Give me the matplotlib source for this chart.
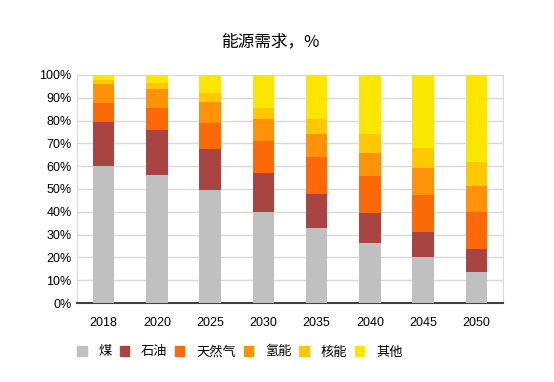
import numpy as np
import matplotlib.pyplot as plt
from matplotlib.patches import Patch

plt.rcParams['font.family'] = ['Noto Sans CJK SC', 'DejaVu Sans']

# 数据（%）
years = ['2018', '2020', '2025', '2030', '2035', '2040', '2045', '2050']
series = ['煤', '石油', '天然气', '氢能', '核能', '其他']
coal = [60, 56, 49.5, 40, 33, 26.5, 20, 13.5]
oil = [19.5, 20, 18, 17, 15, 13, 11, 10]
gas = [8, 9.5, 11.5, 14, 16, 16, 16.5, 16.5]
hydrogen = [8.5, 8.5, 9, 9.5, 10, 10.5, 11.5, 11.5]
nuclear = [2, 2.5, 4, 5, 6.5, 8, 9, 10.5]
other = [2, 3.5, 8, 14.5, 19.5, 26, 32, 38]
colors = ['#C0C0C0', '#A94442', '#FC6A08', '#FF9208', '#FFC800', '#FAE600']

fig = plt.figure(figsize=(5.54, 3.82), dpi=100)
ax = fig.add_axes([77 / 554, 1 - 303 / 382, 426 / 554, 228 / 382])

x = np.arange(len(years))
bottom = np.zeros(len(years))
for vals, c in zip([coal, oil, gas, hydrogen, nuclear, other], colors):
    ax.bar(x, vals, 0.4, bottom=bottom, color=c, zorder=3)
    bottom += np.array(vals)

ax.set_xlim(-0.5, len(years) - 0.5)
ax.set_ylim(0, 100)
ax.set_yticks(np.arange(0, 101, 10))
ax.set_yticklabels([f'{v}%' for v in range(0, 101, 10)], fontsize=9,
                   family=['Liberation Sans', 'DejaVu Sans'])
ax.set_xticks(x)
ax.set_xticklabels(years, fontsize=9, family=['Liberation Sans', 'DejaVu Sans'])
ax.tick_params(length=0, pad=4)
ax.tick_params(axis='x', pad=10)
ax.grid(axis='y', color='#D9D9D9', linewidth=1, zorder=0)
for s in ['top', 'right', 'left']:
    ax.spines[s].set_color('#D9D9D9')
ax.spines['bottom'].set_color('#404040')
ax.spines['bottom'].set_linewidth(1.5)

fig.text(270 / 554, 1 - 42 / 382, '能源需求，%', ha='center', va='center', fontsize=12)

handles = [Patch(color=c, label=s) for s, c in zip(series, colors)]
fig.legend(handles=handles, loc='center', bbox_to_anchor=(240 / 554, 1 - 352 / 382),
           ncol=6, frameon=False, fontsize=9.5, handlelength=0.7, handleheight=0.7,
           handletextpad=0.9, columnspacing=0.6)

fig.savefig('out.png', dpi=100)
